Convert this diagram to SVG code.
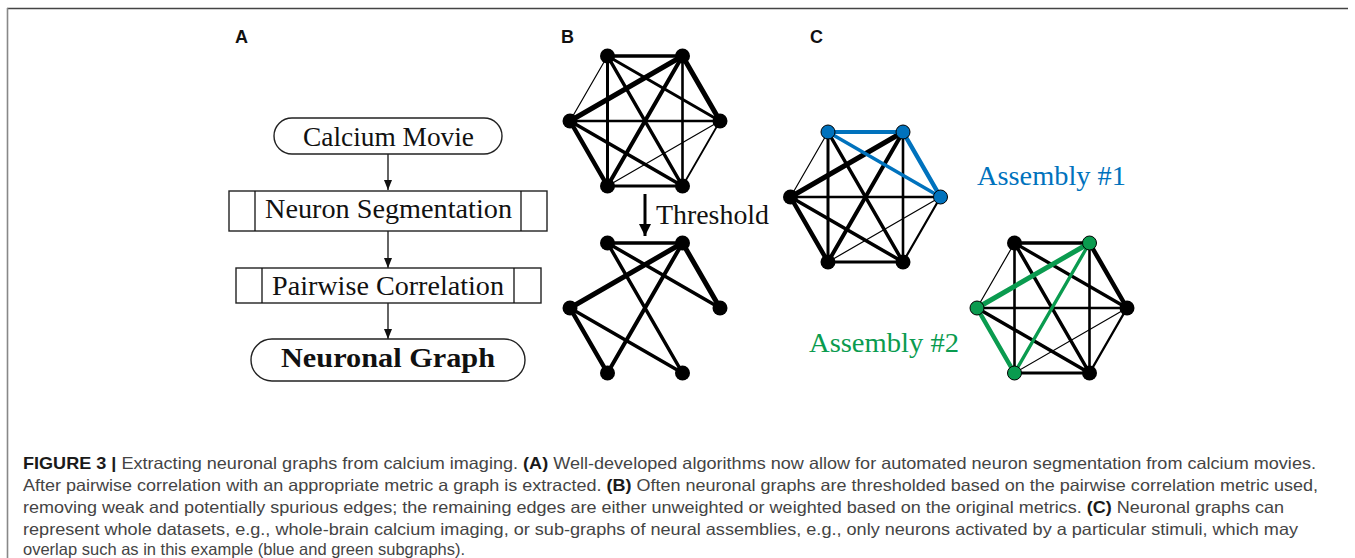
<svg xmlns="http://www.w3.org/2000/svg" width="1355" height="558" viewBox="0 0 1355 558">
<defs>
<style>
.frame-top{stroke:#444;stroke-width:1.6;fill:none}
.frame-left{stroke:#888;stroke-width:1.6;fill:none}
.lbl{font-family:"Liberation Sans",Arial,sans-serif;font-weight:bold;font-size:18px;fill:#111}
.serif{font-family:"Liberation Serif","Times New Roman",serif;font-size:27px;fill:#111}
.box{fill:#fff;stroke:#222;stroke-width:1.4}
.flow{stroke:#111;stroke-width:1.3;fill:none}
.e{stroke:#000;stroke-linecap:round;fill:none}
.nb{fill:#000}
.nblue{fill:#0072bd;stroke:#000;stroke-width:1}
.ngreen{fill:#0a9b4f;stroke:#000;stroke-width:1}
.blue{stroke:#0072bd}
.green{stroke:#0a9b4f}
.cap{font-family:"Liberation Sans",Arial,sans-serif;font-size:16.5px;fill:#444}
.capb{font-weight:bold;fill:#1a1a1a}
</style>
<marker id="ah" viewBox="0 0 10 8" refX="10" refY="4" markerWidth="10" markerHeight="8" markerUnits="userSpaceOnUse" orient="auto">
<path d="M0,0 L10,4 L0,8 Z" fill="#111"/>
</marker>
<marker id="ahbig" viewBox="0 0 12 12" refX="12" refY="6" markerWidth="12" markerHeight="12" markerUnits="userSpaceOnUse" orient="auto">
<path d="M0,0 L12,6 L0,12 Z" fill="#000"/>
</marker>
</defs>
<rect width="1355" height="558" fill="#fff"/>
<g id="frame">
<line class="frame-top" x1="7" y1="8.5" x2="1348" y2="8.5"/>
<line class="frame-left" x1="7.5" y1="8" x2="7.5" y2="558"/>
</g>
<g id="panel-labels">
<text class="lbl" x="235" y="43">A</text>
<text class="lbl" x="561" y="43">B</text>
<text class="lbl" x="810" y="43">C</text>
</g>
<g id="connectors">
<line class="flow" x1="388" y1="154" x2="388" y2="190" marker-end="url(#ah)"/>
<line class="flow" x1="388" y1="231" x2="388" y2="268" marker-end="url(#ah)"/>
<line class="flow" x1="388" y1="303" x2="388" y2="339" marker-end="url(#ah)"/>
<line x1="645" y1="194" x2="645" y2="236" stroke="#000" stroke-width="3" marker-end="url(#ahbig)"/>
<g id="graph-b1-edges">
<line class="e" stroke-width="3.3" x1="607.5" y1="56" x2="682.5" y2="56"/>
<line class="e" stroke-width="1.2" x1="607.5" y1="56" x2="570" y2="121"/>
<line class="e" stroke-width="5" x1="570" y1="121" x2="682.5" y2="56"/>
<line class="e" stroke-width="5" x1="682.5" y1="56" x2="720" y2="121"/>
<line class="e" stroke-width="3" x1="607.5" y1="56" x2="607.5" y2="186"/>
<line class="e" stroke-width="2.6" x1="682.5" y1="56" x2="682.5" y2="186"/>
<line class="e" stroke-width="3.5" x1="607.5" y1="56" x2="682.5" y2="186"/>
<line class="e" stroke-width="3" x1="607.5" y1="56" x2="720" y2="121"/>
<line class="e" stroke-width="4" x1="682.5" y1="56" x2="607.5" y2="186"/>
<line class="e" stroke-width="2.7" x1="570" y1="121" x2="720" y2="121"/>
<line class="e" stroke-width="4.5" x1="570" y1="121" x2="607.5" y2="186"/>
<line class="e" stroke-width="3.5" x1="570" y1="121" x2="682.5" y2="186"/>
<line class="e" stroke-width="1.2" x1="720" y1="121" x2="607.5" y2="186"/>
<line class="e" stroke-width="1.8" x1="720" y1="121" x2="682.5" y2="186"/>
<line class="e" stroke-width="3" x1="607.5" y1="186" x2="682.5" y2="186"/>
</g>
<g id="graph-b2-edges">
<line class="e" stroke-width="3.3" x1="607.5" y1="243" x2="682.5" y2="243"/>
<line class="e" stroke-width="3.5" x1="607.5" y1="243" x2="720" y2="308"/>
<line class="e" stroke-width="3.5" x1="607.5" y1="243" x2="682.5" y2="373"/>
<line class="e" stroke-width="5" x1="682.5" y1="243" x2="570" y2="308"/>
<line class="e" stroke-width="4" x1="682.5" y1="243" x2="607.5" y2="373"/>
<line class="e" stroke-width="5" x1="682.5" y1="243" x2="720" y2="308"/>
<line class="e" stroke-width="4.5" x1="570" y1="308" x2="607.5" y2="373"/>
<line class="e" stroke-width="3.5" x1="570" y1="308" x2="682.5" y2="373"/>
</g>
<g id="graph-c1-edges">
<line class="e" stroke-width="1.2" x1="828" y1="132" x2="790.5" y2="197"/>
<line class="e" stroke-width="5" x1="790.5" y1="197" x2="903" y2="132"/>
<line class="e" stroke-width="3" x1="828" y1="132" x2="828" y2="262"/>
<line class="e" stroke-width="2.6" x1="903" y1="132" x2="903" y2="262"/>
<line class="e" stroke-width="3.5" x1="828" y1="132" x2="903" y2="262"/>
<line class="e" stroke-width="4" x1="903" y1="132" x2="828" y2="262"/>
<line class="e" stroke-width="2.7" x1="790.5" y1="197" x2="940.5" y2="197"/>
<line class="e" stroke-width="4.5" x1="790.5" y1="197" x2="828" y2="262"/>
<line class="e" stroke-width="3.5" x1="790.5" y1="197" x2="903" y2="262"/>
<line class="e" stroke-width="1.2" x1="940.5" y1="197" x2="828" y2="262"/>
<line class="e" stroke-width="2.2" x1="940.5" y1="197" x2="903" y2="262"/>
<line class="e" stroke-width="3" x1="828" y1="262" x2="903" y2="262"/>
<line class="e blue" stroke-width="4" x1="828" y1="132" x2="903" y2="132"/>
<line class="e blue" stroke-width="3.5" x1="828" y1="132" x2="940.5" y2="197"/>
<line class="e blue" stroke-width="4.5" x1="903" y1="132" x2="940.5" y2="197"/>
</g>
<g id="graph-c2-edges">
<line class="e" stroke-width="3.5" x1="1014.5" y1="243" x2="1089.5" y2="243"/>
<line class="e" stroke-width="1.2" x1="1014.5" y1="243" x2="977" y2="308"/>
<line class="e" stroke-width="2.6" x1="1014.5" y1="243" x2="1014.5" y2="373"/>
<line class="e" stroke-width="3.3" x1="1014.5" y1="243" x2="1127" y2="308"/>
<line class="e" stroke-width="3.5" x1="1014.5" y1="243" x2="1089.5" y2="373"/>
<line class="e" stroke-width="4.5" x1="1089.5" y1="243" x2="1127" y2="308"/>
<line class="e" stroke-width="2.6" x1="1089.5" y1="243" x2="1089.5" y2="373"/>
<line class="e" stroke-width="2.7" x1="977" y1="308" x2="1127" y2="308"/>
<line class="e" stroke-width="3.5" x1="977" y1="308" x2="1089.5" y2="373"/>
<line class="e" stroke-width="1.2" x1="1127" y1="308" x2="1014.5" y2="373"/>
<line class="e" stroke-width="2.4" x1="1127" y1="308" x2="1089.5" y2="373"/>
<line class="e" stroke-width="3" x1="1014.5" y1="373" x2="1089.5" y2="373"/>
<line class="e green" stroke-width="5" x1="1089.5" y1="243" x2="977" y2="308"/>
<line class="e green" stroke-width="3.3" x1="1089.5" y1="243" x2="1014.5" y2="373"/>
<line class="e green" stroke-width="4.5" x1="977" y1="308" x2="1014.5" y2="373"/>
</g>
</g>
<g id="node-calcium-movie">
<rect class="box" x="274" y="118" width="228" height="36" rx="18"/>
<text class="serif" x="303" y="146" textLength="171" lengthAdjust="spacingAndGlyphs">Calcium Movie</text>
</g>
<g id="node-neuron-segmentation">
<rect class="box" x="229" y="191" width="318" height="40"/>
<line class="flow" x1="255" y1="191" x2="255" y2="231"/>
<line class="flow" x1="521" y1="191" x2="521" y2="231"/>
<text class="serif" x="265" y="218" textLength="247" lengthAdjust="spacingAndGlyphs">Neuron Segmentation</text>
</g>
<g id="node-pairwise-correlation">
<rect class="box" x="236" y="268" width="305" height="35"/>
<line class="flow" x1="262" y1="268" x2="262" y2="303"/>
<line class="flow" x1="514" y1="268" x2="514" y2="303"/>
<text class="serif" x="272" y="295" textLength="232" lengthAdjust="spacingAndGlyphs">Pairwise Correlation</text>
</g>
<g id="node-neuronal-graph">
<rect class="box" x="251" y="339" width="274" height="42" rx="21"/>
<text class="serif" x="281" y="367" font-weight="bold" textLength="214" lengthAdjust="spacingAndGlyphs">Neuronal Graph</text>
</g>
<g id="label-threshold">
<text class="serif" x="656" y="224" textLength="113" lengthAdjust="spacingAndGlyphs">Threshold</text>
</g>
<g id="graph-b1-nodes">
<circle id="b1-tl" class="nb" cx="607.5" cy="56" r="7.5"/>
<circle id="b1-tr" class="nb" cx="682.5" cy="56" r="7.5"/>
<circle id="b1-r" class="nb" cx="720" cy="121" r="7.5"/>
<circle id="b1-br" class="nb" cx="682.5" cy="186" r="7.5"/>
<circle id="b1-bl" class="nb" cx="607.5" cy="186" r="7.5"/>
<circle id="b1-l" class="nb" cx="570" cy="121" r="7.5"/>
</g>
<g id="graph-b2-nodes">
<circle id="b2-tl" class="nb" cx="607.5" cy="243" r="7.5"/>
<circle id="b2-tr" class="nb" cx="682.5" cy="243" r="7.5"/>
<circle id="b2-r" class="nb" cx="720" cy="308" r="7.5"/>
<circle id="b2-br" class="nb" cx="682.5" cy="373" r="7.5"/>
<circle id="b2-bl" class="nb" cx="607.5" cy="373" r="7.5"/>
<circle id="b2-l" class="nb" cx="570" cy="308" r="7.5"/>
</g>
<g id="graph-c1-nodes">
<circle id="c1-tl" class="nblue" cx="828" cy="132" r="7"/>
<circle id="c1-tr" class="nblue" cx="903" cy="132" r="7"/>
<circle id="c1-r" class="nblue" cx="940.5" cy="197" r="7"/>
<circle id="c1-br" class="nb" cx="903" cy="262" r="7.5"/>
<circle id="c1-bl" class="nb" cx="828" cy="262" r="7.5"/>
<circle id="c1-l" class="nb" cx="790.5" cy="197" r="7.5"/>
</g>
<g id="graph-c2-nodes">
<circle id="c2-tl" class="nb" cx="1014.5" cy="243" r="7.5"/>
<circle id="c2-tr" class="ngreen" cx="1089.5" cy="243" r="7"/>
<circle id="c2-r" class="nb" cx="1127" cy="308" r="7.5"/>
<circle id="c2-br" class="nb" cx="1089.5" cy="373" r="7.5"/>
<circle id="c2-bl" class="ngreen" cx="1014.5" cy="373" r="7"/>
<circle id="c2-l" class="ngreen" cx="977" cy="308" r="7"/>
</g>
<g id="label-assembly-1">
<text class="serif" x="977" y="185" style="fill:#0072bd" textLength="149" lengthAdjust="spacingAndGlyphs">Assembly #1</text>
</g>
<g id="label-assembly-2">
<text class="serif" x="809" y="352" style="fill:#0a9b4f" textLength="150" lengthAdjust="spacingAndGlyphs">Assembly #2</text>
</g>
<g id="caption">
<text class="cap" x="23" y="469" textLength="1293" lengthAdjust="spacingAndGlyphs"><tspan class="capb">FIGURE 3 |</tspan> Extracting neuronal graphs from calcium imaging. <tspan class="capb">(A)</tspan> Well-developed algorithms now allow for automated neuron segmentation from calcium movies.</text>
<text class="cap" x="23" y="491" textLength="1295" lengthAdjust="spacingAndGlyphs">After pairwise correlation with an appropriate metric a graph is extracted. <tspan class="capb">(B)</tspan> Often neuronal graphs are thresholded based on the pairwise correlation metric used,</text>
<text class="cap" x="23" y="513" textLength="1261" lengthAdjust="spacingAndGlyphs">removing weak and potentially spurious edges; the remaining edges are either unweighted or weighted based on the original metrics. <tspan class="capb">(C)</tspan> Neuronal graphs can</text>
<text class="cap" x="23" y="535" textLength="1275" lengthAdjust="spacingAndGlyphs">represent whole datasets, e.g., whole-brain calcium imaging, or sub-graphs of neural assemblies, e.g., only neurons activated by a particular stimuli, which may</text>
<text class="cap" x="23" y="555">overlap such as in this example (blue and green subgraphs).</text>
</g>
</svg>
